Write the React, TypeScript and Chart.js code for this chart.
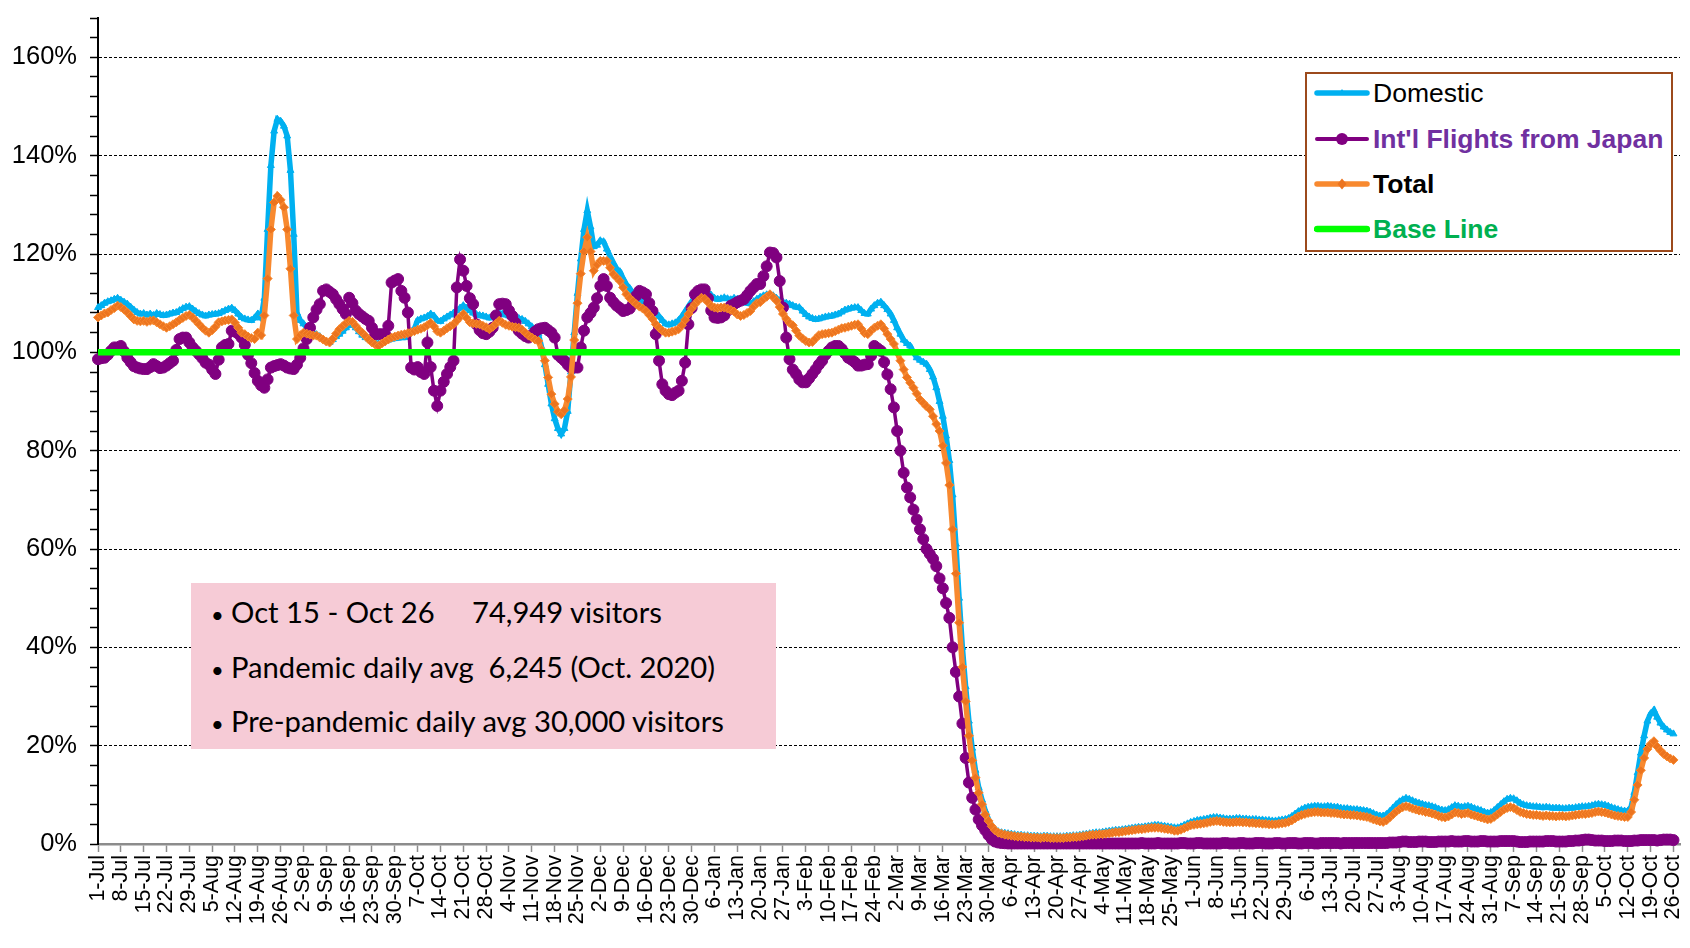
import React, { useEffect, useRef } from "react";
import { Chart, registerables } from "chart.js";

Chart.register(...registerables);

// Weekly tick labels (1 Jul 2019 → 26 Oct 2020), one every 7 days
const TICK_LABELS = [
  "1-Jul", "8-Jul", "15-Jul", "22-Jul", "29-Jul", "5-Aug", "12-Aug", "19-Aug", "26-Aug",
  "2-Sep", "9-Sep", "16-Sep", "23-Sep", "30-Sep", "7-Oct", "14-Oct", "21-Oct", "28-Oct",
  "4-Nov", "11-Nov", "18-Nov", "25-Nov", "2-Dec", "9-Dec", "16-Dec", "23-Dec", "30-Dec",
  "6-Jan", "13-Jan", "20-Jan", "27-Jan", "3-Feb", "10-Feb", "17-Feb", "24-Feb",
  "2-Mar", "9-Mar", "16-Mar", "23-Mar", "30-Mar", "6-Apr", "13-Apr", "20-Apr", "27-Apr",
  "4-May", "11-May", "18-May", "25-May", "1-Jun", "8-Jun", "15-Jun", "22-Jun", "29-Jun",
  "6-Jul", "13-Jul", "20-Jul", "27-Jul", "3-Aug", "10-Aug", "17-Aug", "24-Aug", "31-Aug",
  "7-Sep", "14-Sep", "21-Sep", "28-Sep", "5-Oct", "12-Oct", "19-Oct", "26-Oct",
];
const DAYS_PER_TICK = 7;

// Daily values (% of baseline), one row per week starting at each tick label
const DOMESTIC = [
  109.1, 109.5, 110, 110.3, 110.5, 110.8, 111,
  110.6, 110.2, 109.8, 109.2, 108.6, 108.1, 107.8,
  107.9, 107.6, 107.8, 107.5, 107.9, 107.7, 107.5,
  107.6, 107.8, 108, 108.1, 108.5, 108.9, 109.2,
  109.3, 108.8, 108.3, 107.9, 107.6, 107.4, 107.6,
  107.7, 107.8, 107.9, 108.2, 108.5, 108.8, 109,
  108.5, 107.8, 107.1, 106.8, 106.6, 106.5, 107,
  107.8, 107, 111, 125, 138, 145, 147.4,
  147, 146, 144, 137, 124, 108, 106.5,
  105.8, 105, 104.5, 104, 103.6, 103.2, 102.7,
  102.2, 102, 102.6, 103.2, 103.7, 104.3, 105,
  105.5, 105.7, 105, 104.2, 103.5, 103, 102.7,
  102.3, 102, 101.7, 101.9, 102.2, 102.5, 102.7,
  102.8, 102.9, 103, 103, 103.6, 104.2, 104.8,
  106.5, 106.8, 107, 107.3, 107.8, 107.4, 106.5,
  106.3, 106.8, 107.2, 107.6, 108, 108.5, 109,
  109.5, 109, 108.5, 108, 107.7, 107.5, 107.4,
  107.2, 107, 107.2, 107.6, 108, 107.8, 107.6,
  107.4, 107.2, 107, 106.9, 106.7, 106.3, 105.8,
  105.2, 104.6, 103.8, 101, 97.5, 93.5, 89.5,
  86.5, 84.5, 83.4, 84.5, 88, 96, 104,
  112, 119, 125, 128.8, 125.5, 121.5, 121.8,
  122.7, 122.5, 121, 119.5, 118.2, 117, 116.4,
  115, 113.8, 113, 112, 111.2, 110.7, 110.3,
  109.8, 109.3, 108.6, 108, 107.3, 106.5, 105.8,
  105.6, 105.8, 106, 106.5, 107.3, 108.3, 109.3,
  110.3, 111.2, 111.8, 112.3, 112.4, 112.2, 111.6,
  111, 110.8, 110.9, 111.1, 110.9, 110.7, 111,
  110.8, 110.5, 110.3, 110, 109.9, 110.3, 110.8,
  111.2, 111.5, 111.7, 111.8, 111.5, 111, 110.5,
  110.2, 110, 109.8, 109.5, 109.2, 109.1, 108.4,
  107.7, 107.2, 106.9, 106.7, 106.8, 107, 107.2,
  107.3, 107.4, 107.6, 107.8, 108.2, 108.6, 108.8,
  109, 109.1, 109.1, 108.5, 107.9, 107.8, 108.8,
  109.5, 110, 110.2, 109.5, 108.7, 107.8, 106.5,
  105, 103.7, 102.5, 101.8, 101.3, 100, 98.9,
  98.4, 98, 97.6, 96.5, 95, 92.8, 90,
  87, 83, 78, 71, 61, 50, 40,
  32, 25, 19.5, 15, 11.5, 9, 6.8,
  5, 3.8, 3, 2.5, 2.3, 2.2, 2.1,
  2, 1.9, 1.8, 1.8, 1.7, 1.7, 1.6,
  1.6, 1.6, 1.5, 1.6, 1.6, 1.5, 1.5,
  1.5, 1.5, 1.5, 1.6, 1.6, 1.7, 1.7,
  1.8, 1.9, 2.0, 2.1, 2.2, 2.3, 2.3,
  2.4, 2.5, 2.6, 2.7, 2.8, 2.8, 2.9,
  3.0, 3.1, 3.2, 3.3, 3.4, 3.4, 3.5,
  3.6, 3.7, 3.8, 3.8, 3.7, 3.6, 3.5,
  3.4, 3.3, 3.3, 3.5, 3.8, 4.1, 4.4,
  4.6, 4.8, 4.9, 5.0, 5.1, 5.3, 5.4,
  5.4, 5.3, 5.2, 5.1, 5.1, 5.1, 5.2,
  5.2, 5.1, 5.1, 5.0, 5.0, 5.0, 4.9,
  4.9, 4.8, 4.8, 4.7, 4.7, 4.8, 4.9,
  5.0, 5.2, 5.6, 6.1, 6.6, 7.0, 7.3,
  7.5, 7.6, 7.7, 7.7, 7.6, 7.6, 7.7,
  7.6, 7.5, 7.5, 7.3, 7.2, 7.2, 7.1,
  7.0, 7.0, 6.9, 6.8, 6.7, 6.5, 6.2,
  5.9, 5.7, 5.7, 6.0, 6.6, 7.3, 8.0,
  8.6, 9.0, 9.3, 9.1, 8.8, 8.5, 8.3,
  8.1, 7.9, 7.8, 7.6, 7.4, 7.1, 6.9,
  6.8, 7.0, 7.4, 7.8, 7.7, 7.5, 7.6,
  7.7, 7.5, 7.2, 7.0, 6.8, 6.5, 6.3,
  6.4, 6.8, 7.4, 8.0, 8.6, 9.1, 9.3,
  9.2, 8.8, 8.3, 8.0, 7.8, 7.7, 7.6,
  7.6, 7.5, 7.4, 7.5, 7.4, 7.3, 7.3,
  7.3, 7.2, 7.2, 7.3, 7.3, 7.4, 7.5,
  7.6, 7.6, 7.7, 7.8, 8.0, 8.1, 8.0,
  7.9, 7.7, 7.4, 7.2, 7.0, 6.8, 6.7,
  6.7, 7.5, 10.5, 14.5, 18.5, 22, 25,
  26.5, 27.2, 25.8, 24.6, 23.8, 23.2, 22.7,
  22.4,
];

const INTL_JAPAN = [
  98.6, 98.8, 98.9, 99.5, 100.3, 101, 101,
  101.3, 100.2, 98.9, 98, 97.2, 96.9, 96.7,
  96.6, 96.6, 97, 97.6, 97.2, 96.8, 96.9,
  97.3, 97.8, 98.3, 100.5, 102.7, 103, 103,
  102, 101, 100.3, 99.6, 98.8, 97.9, 97.5,
  96.5, 95.6, 98.5, 101, 101.5, 101.7, 104.4,
  104.2, 103.8, 103, 101.5, 99.5, 97.8, 95.8,
  94.2, 93.3, 92.8, 94.5, 96.9, 97.2, 97.4,
  97.6, 97.3, 96.9, 96.7, 96.6, 97.5, 98.9,
  100.8, 102.7, 105, 107.1, 108.7, 109.8, 112.5,
  112.8, 112.3, 111.8, 110.8, 109.8, 108.8, 107.8,
  111.1, 110, 108.5, 107.8, 107.3, 106.8, 106.4,
  105, 103.7, 103.7, 103.7, 103.7, 105.4, 114.2,
  114.6, 114.9, 112.5, 111.1, 108.1, 96.9, 96.5,
  97, 96, 95.6, 102, 97, 92.2, 89.1,
  92.2, 94, 95.6, 97, 98.3, 113.2, 118.9,
  116.6, 113.5, 111, 109.8, 105.7, 104.5, 103.9,
  103.7, 104.2, 105, 107.5, 109.8, 109.9, 109.8,
  108.5, 107.4, 106, 104.4, 103.8, 103.3, 103,
  103.5, 104.2, 104.7, 104.9, 105, 104.5, 104,
  103, 99.5, 98.9, 98.3, 97.5, 96.9, 96.9,
  96.9, 101, 104.4, 107.1, 108, 109.1, 111,
  113.5, 114.9, 113.5, 111.1, 110.2, 109.5, 109,
  108.4, 108.6, 108.9, 109.8, 111.5, 112.5, 112.2,
  111.8, 110, 108.4, 103.7, 98.3, 93.5, 92.2,
  91.5, 91.3, 91.8, 92.2, 94.2, 97.9, 105.7,
  109, 111.8, 112.5, 112.8, 112.8, 111, 108.5,
  107.1, 107, 107.1, 107.5, 108.5, 109.5, 109.8,
  110.2, 110.5, 110.8, 111.6, 112.5, 113.2, 113.9,
  113.9, 115.5, 117.5, 120.3, 120.2, 119.3, 114.5,
  109.1, 103, 98.6, 96.5, 95.6, 94.5, 93.9,
  93.9, 94.7, 95.6, 96.5, 97.5, 98.3, 99.5,
  100.3, 101, 101.3, 101.3, 100.7, 99.8, 98.9,
  98.5, 98, 97.3, 97.3, 97.5, 97.6, 99.3,
  101.3, 100.8, 100.3, 98, 95.5, 92.5, 88.8,
  84, 80, 75.5, 72.5, 70.5, 68, 66,
  64, 62, 60, 59, 58, 56.5, 54,
  52, 49, 46, 40, 35, 30, 24.5,
  17.5, 12.5, 9.4, 7, 5, 3.8, 2.8,
  1.8, 1, 0.5, 0.3, 0.2, 0.15, 0.1,
  0.1, 0.1, 0.1, 0.1, 0.1, 0.1, 0.1,
  0.1, 0.1, 0.1, 0.1, 0.1, 0.1, 0.1,
  0.1, 0.1, 0.1, 0.1, 0.1, 0.1, 0.1,
  0.1, 0.1, 0.1, 0.1, 0.1, 0.1, 0.1,
  0.1, 0.1, 0.1, 0.1, 0.1, 0.1, 0.1,
  0.1, 0.1, 0.1, 0.1, 0.1, 0.2, 0.1,
  0.1, 0.1, 0.1, 0.2, 0.1, 0.1, 0.1,
  0.1, 0.1, 0.1, 0.2, 0.2, 0.1, 0.1,
  0.1, 0.2, 0.2, 0.1, 0.1, 0.1, 0.1,
  0.1, 0.1, 0.2, 0.2, 0.1, 0.1, 0.1,
  0.2, 0.2, 0.1, 0.1, 0.1, 0.2, 0.2,
  0.2, 0.1, 0.1, 0.1, 0.2, 0.2, 0.1,
  0.1, 0.2, 0.2, 0.2, 0.1, 0.1, 0.2,
  0.2, 0.2, 0.1, 0.1, 0.2, 0.2, 0.2,
  0.2, 0.2, 0.2, 0.1, 0.2, 0.2, 0.2,
  0.2, 0.2, 0.2, 0.2, 0.2, 0.2, 0.2,
  0.2, 0.2, 0.2, 0.2, 0.3, 0.3, 0.3,
  0.4, 0.5, 0.5, 0.4, 0.4, 0.4, 0.5,
  0.5, 0.5, 0.4, 0.4, 0.4, 0.5, 0.5,
  0.5, 0.5, 0.6, 0.5, 0.5, 0.5, 0.6,
  0.6, 0.5, 0.5, 0.5, 0.6, 0.6, 0.5,
  0.5, 0.5, 0.5, 0.6, 0.6, 0.6, 0.6,
  0.6, 0.5, 0.4, 0.4, 0.4, 0.5, 0.5,
  0.5, 0.5, 0.5, 0.6, 0.6, 0.6, 0.5,
  0.5, 0.5, 0.5, 0.6, 0.6, 0.7, 0.7,
  0.8, 0.9, 0.9, 0.8, 0.7, 0.7, 0.7,
  0.6, 0.6, 0.6, 0.7, 0.7, 0.7, 0.6,
  0.6, 0.6, 0.7, 0.7, 0.8, 0.8, 0.8,
  0.8, 0.8, 0.7, 0.8, 0.9, 0.9, 0.9,
  0.8,
];

const TOTAL = [
  107.1, 107.5, 107.9, 108.1, 108.6, 109, 109.5,
  109.2, 108.7, 108.1, 107.4, 106.7, 106.4, 106.3,
  106.4, 106.2, 106.4, 106.5, 106.1, 105.7, 105.3,
  105, 105.3, 105.7, 106.1, 106.6, 107, 107.4,
  107.6, 107.1, 106.4, 105.7, 105, 104.4, 104,
  104.5, 105.2, 106.1, 106.3, 106.5, 106.6, 106.7,
  106, 105, 104, 103.7, 103.2, 102.9, 102.7,
  104, 103.5, 107.5, 115, 125, 130.5, 131.8,
  131, 129.5, 125, 117, 107.5, 102.7, 103.5,
  104, 103.8, 103.6, 103.4, 103.4, 103, 102.6,
  102.2, 102, 102.8, 103.8, 104.7, 105.3, 105.9,
  106.4, 106.2, 105.4, 104.6, 104, 103.3, 102.6,
  102, 101.6, 101.3, 101.8, 102.2, 102.6, 103,
  103.2, 103.4, 103.6, 103.7, 103.9, 104.1, 104.3,
  104.6, 104.8, 105.1, 105.5, 106, 105.3, 104.3,
  104, 104.4, 104.9, 105.3, 105.7, 106.4, 107.2,
  107.8, 107, 106.1, 105.9, 105.8, 105.7, 105.4,
  105.1, 104.7, 105.2, 105.8, 106.4, 106, 105.6,
  105.4, 105.2, 105.1, 105, 104.6, 104, 103.4,
  103, 102.6, 102.3, 100.5, 98.3, 94.9, 91.5,
  89.5, 87.9, 87.4, 88.2, 90.5, 95, 102.5,
  110, 116, 120.5, 123.4, 120.5, 116.6, 117.8,
  118.6, 118.6, 118.6, 117.2, 115.9, 115.2, 114.5,
  113.2, 111.8, 111, 110.4, 109.8, 109.3, 108.9,
  108.4, 107.6, 106.8, 105.7, 105, 104.4, 104,
  104, 104.2, 104.4, 104.7, 105.5, 106.6, 107.8,
  108.9, 109.8, 110.5, 111.1, 110.9, 110.2, 109.4,
  109.1, 109, 109.1, 109.1, 108.9, 108.6, 108.3,
  107.7, 107.4, 107.6, 108, 108.4, 109.3, 110,
  110.2, 110.8, 111.3, 111.8, 111.2, 110.5, 109.2,
  107.8, 106.8, 106, 105.5, 104.4, 103.4, 102.8,
  102.3, 102, 102.1, 102.8, 103.5, 103.7, 103.8,
  103.9, 104, 104.3, 104.6, 104.9, 105, 105.2,
  105.4, 105.6, 105.7, 104.8, 103.9, 103.7, 104.4,
  105, 105.4, 105.7, 104.8, 103.7, 102.7, 101.7,
  100, 98.3, 96.5, 94.9, 93.8, 92.8, 91.6,
  90.4, 89.7, 89, 88.4, 87, 85.4, 84,
  81, 77.5, 73, 64, 55, 45, 36,
  29, 22, 17, 13.5, 10.4, 8.1, 6,
  4.7, 3.6, 2.8, 2.3, 2.1, 1.9, 1.8,
  1.7, 1.6, 1.5, 1.5, 1.4, 1.4, 1.3,
  1.3, 1.3, 1.2, 1.3, 1.3, 1.2, 1.2,
  1.2, 1.2, 1.2, 1.3, 1.3, 1.4, 1.4,
  1.5, 1.6, 1.7, 1.8, 1.9, 1.9, 2.0,
  2.0, 2.1, 2.2, 2.3, 2.4, 2.4, 2.5,
  2.6, 2.7, 2.8, 2.9, 3.0, 3.0, 3.1,
  3.2, 3.3, 3.3, 3.3, 3.2, 3.1, 3.0,
  2.9, 2.7, 2.7, 2.9, 3.2, 3.5, 3.8,
  3.9, 4.0, 4.1, 4.2, 4.3, 4.5, 4.6,
  4.7, 4.6, 4.5, 4.4, 4.4, 4.4, 4.5,
  4.5, 4.4, 4.4, 4.3, 4.3, 4.2, 4.2,
  4.1, 4.1, 4.0, 4.0, 4.0, 4.1, 4.2,
  4.3, 4.5, 4.8, 5.2, 5.6, 5.9, 6.1,
  6.3, 6.4, 6.5, 6.5, 6.4, 6.4, 6.4,
  6.3, 6.3, 6.2, 6.1, 6.0, 6.0, 5.9,
  5.9, 5.8, 5.7, 5.6, 5.5, 5.3, 5.0,
  4.8, 4.6, 4.5, 4.8, 5.4, 6.0, 6.6,
  7.1, 7.5, 7.7, 7.5, 7.2, 7.0, 6.8,
  6.7, 6.5, 6.4, 6.2, 6.0, 5.7, 5.5,
  5.4, 5.6, 6.0, 6.4, 6.3, 6.1, 6.2,
  6.3, 6.0, 5.8, 5.6, 5.4, 5.2, 5.0,
  5.1, 5.5, 6.0, 6.5, 7.0, 7.3, 7.5,
  7.3, 6.9, 6.5, 6.3, 6.1, 6.0, 5.9,
  5.9, 5.8, 5.7, 5.8, 5.7, 5.7, 5.6,
  5.7, 5.7, 5.6, 5.7, 5.8, 5.9, 6.0,
  6.1, 6.1, 6.2, 6.3, 6.5, 6.6, 6.5,
  6.4, 6.2, 6.0, 5.8, 5.7, 5.6, 5.5,
  5.5, 6.5, 9, 12, 15, 17.5, 19.3,
  20.3, 20.9, 19.8, 19, 18.3, 17.8, 17.4,
  17.1,
];

const BASE_LINE_VALUE = 100;
const Y_MAX = 168;
const Y_MINOR_STEP = 4;
const Y_MAJOR_STEP = 20;
const Y_LABEL_MAX = 160;
const X_MAX = 485;

const SERIES_NAMES = ["Domestic", "Int'l Flights from Japan", "Total", "Base Line"];
const NOTE_LINES = [
  "Oct 15 - Oct 26\u00a0\u00a0\u00a0\u00a0 74,949 visitors",
  "Pandemic daily avg\u00a0 6,245 (Oct. 2020)",
  "Pre-pandemic daily avg 30,000 visitors",
];

const C_DOM = "#00b0f0";
const C_INTL = "#800080";
const C_TOTAL = "#f8892f";
const C_TOTAL_PT = "#ec741f";
const C_BASE = "#00ff00";
const AXIS_FONT = "'Liberation Sans', Arial, Helvetica, sans-serif";

function LegendMark({ kind }: { kind: number }) {
  const colors = [C_DOM, C_INTL, C_TOTAL, C_BASE];
  const c = colors[kind];
  return (
    <svg width={56} height={20} style={{ display: "block" }}>
      <line x1={3} y1={10} x2={53} y2={10} stroke={c} strokeWidth={kind === 3 ? 6.5 : kind === 1 ? 4 : 5.5} strokeLinecap="round" />
      {kind === 0 && <polygon points="28,6 32,12 24,12" fill={c} />}
      {kind === 1 && <circle cx={28} cy={10} r={6} fill={c} />}
      {kind === 2 && <polygon points="28,4.5 32.5,10 28,15.5 23.5,10" fill={C_TOTAL_PT} />}
    </svg>
  );
}

export default function App() {
  const ref = useRef<HTMLCanvasElement | null>(null);

  useEffect(() => {
    if (!ref.current) return;
    const toXY = (arr: number[]) => arr.map((v, i) => ({ x: i, y: v }));
    const chart = new Chart(ref.current, {
      type: "line",
      data: {
        datasets: [
          {
            label: SERIES_NAMES[0],
            data: toXY(DOMESTIC),
            borderColor: C_DOM,
            backgroundColor: C_DOM,
            borderWidth: 5.5,
            pointStyle: "triangle",
            pointRadius: 4,
            pointBorderWidth: 1,
            pointBackgroundColor: C_DOM,
            pointBorderColor: C_DOM,
            order: 4,
            clip: false,
          } as any,
          {
            label: SERIES_NAMES[1],
            data: toXY(INTL_JAPAN),
            borderColor: C_INTL,
            backgroundColor: C_INTL,
            borderWidth: 3.5,
            pointStyle: "circle",
            pointRadius: 5.5,
            pointBorderWidth: 1,
            pointBackgroundColor: C_INTL,
            pointBorderColor: C_INTL,
            order: 3,
            clip: false,
          } as any,
          {
            label: SERIES_NAMES[2],
            data: toXY(TOTAL),
            borderColor: C_TOTAL,
            backgroundColor: C_TOTAL_PT,
            borderWidth: 5.5,
            pointStyle: "rectRot",
            pointRadius: 4.5,
            pointBorderWidth: 1,
            pointBackgroundColor: C_TOTAL_PT,
            pointBorderColor: C_TOTAL,
            order: 2,
            clip: false,
          } as any,
          {
            label: SERIES_NAMES[3],
            data: [
              { x: 0, y: BASE_LINE_VALUE },
              { x: X_MAX, y: BASE_LINE_VALUE },
            ],
            borderColor: C_BASE,
            backgroundColor: C_BASE,
            borderWidth: 6.5,
            pointRadius: 0,
            order: 1,
          } as any,
        ],
      },
      options: {
        responsive: false,
        animation: false,
        devicePixelRatio: 1,
        events: [],
        layout: { padding: { left: 0, right: 10, top: 18, bottom: 0 } },
        elements: { line: { tension: 0 } },
        plugins: {
          legend: { display: false },
          tooltip: { enabled: false },
          title: { display: false },
        },
        scales: {
          x: {
            type: "linear",
            min: 0,
            max: X_MAX,
            afterBuildTicks: (scale: any) => {
              scale.ticks = TICK_LABELS.map((_, i) => ({ value: i * DAYS_PER_TICK }));
            },
            afterFit: (scale: any) => {
              scale.height = 104;
              scale.paddingLeft = 0;
              scale.paddingRight = 0;
            },
            ticks: {
              autoSkip: false,
              minRotation: 90,
              maxRotation: 90,
              padding: 3,
              color: "#000",
              font: { family: AXIS_FONT, size: 21.5 },
              callback: (v: any) => TICK_LABELS[Math.round(Number(v) / DAYS_PER_TICK)] ?? "",
            },
            grid: {
              display: true,
              drawOnChartArea: false,
              drawTicks: true,
              tickLength: 8,
              tickColor: "#8c8c8c",
              tickWidth: 1.5,
            },
            border: { display: true, color: "#8c8c8c", width: 2.5 },
          },
          y: {
            type: "linear",
            min: 0,
            max: Y_MAX,
            afterBuildTicks: (scale: any) => {
              const t: any[] = [];
              for (let v = 0; v <= Y_MAX; v += Y_MINOR_STEP) t.push({ value: v });
              scale.ticks = t;
            },
            afterFit: (scale: any) => {
              scale.width = 98;
              scale.paddingTop = 0;
              scale.paddingBottom = 0;
            },
            ticks: {
              autoSkip: false,
              padding: 13,
              color: "#000",
              font: { family: AXIS_FONT, size: 25.5 },
              callback: (v: any) => {
                const n = Number(v);
                return n % Y_MAJOR_STEP === 0 && n <= Y_LABEL_MAX ? `${n}%` : "";
              },
            },
            grid: {
              display: true,
              drawOnChartArea: true,
              drawTicks: true,
              tickLength: 8,
              tickColor: "#000",
              tickWidth: 1.5,
              lineWidth: 1,
              color: (ctx: any) => {
                const v = ctx.tick ? ctx.tick.value : -1;
                return v > 0 && v <= Y_LABEL_MAX && v % Y_MAJOR_STEP === 0 ? "#000" : "rgba(0,0,0,0)";
              },
            },
            border: { display: true, color: "#000", width: 2, dash: [3, 2] },
          },
        },
      } as any,
    });
    return () => chart.destroy();
  }, []);

  const legendRows = [93, 139, 184, 229];
  const legendStyles: React.CSSProperties[] = [
    { color: "#000", fontWeight: 400 },
    { color: "#7030a0", fontWeight: 700 },
    { color: "#000", fontWeight: 700 },
    { color: "#00b050", fontWeight: 700 },
  ];
  const noteRows = [29, 84, 138];

  return (
    <div style={{ position: "fixed", left: 0, top: 0, width: 1690, height: 948, background: "#fff", overflow: "hidden" }}>
      <canvas ref={ref} width={1690} height={948} style={{ display: "block", width: 1690, height: 948 }} />
      {/* Legend */}
      <div
        style={{
          position: "absolute",
          left: 1305,
          top: 72,
          width: 368,
          height: 180,
          boxSizing: "border-box",
          border: "2px solid #9c4a1c",
          background: "#fff",
        }}
      />
      {SERIES_NAMES.map((name, i) => (
        <div
          key={name}
          style={{
            position: "absolute",
            left: 1314,
            top: legendRows[i] - 16,
            height: 32,
            display: "flex",
            alignItems: "center",
            whiteSpace: "nowrap",
            fontFamily: AXIS_FONT,
            fontSize: 26.5,
          }}
        >
          <LegendMark kind={i} />
          <span style={{ marginLeft: 3, ...legendStyles[i] }}>{name}</span>
        </div>
      ))}
      {/* Note box */}
      <div
        style={{
          position: "absolute",
          left: 191,
          top: 583,
          width: 585,
          height: 166,
          background: "#f6cbd6",
        }}
      >
        {NOTE_LINES.map((t, i) => (
          <div
            key={i}
            style={{
              position: "absolute",
              left: 20,
              top: noteRows[i] - 19,
              height: 38,
              lineHeight: "38px",
              whiteSpace: "nowrap",
              fontFamily: "Lato, 'Open Sans', sans-serif",
              fontSize: 29.2,
              color: "#000",
            }}
          >
            <span style={{ display: "inline-block", width: 20, fontSize: 22 }}>•</span>
            {t}
          </div>
        ))}
      </div>
    </div>
  );
}
